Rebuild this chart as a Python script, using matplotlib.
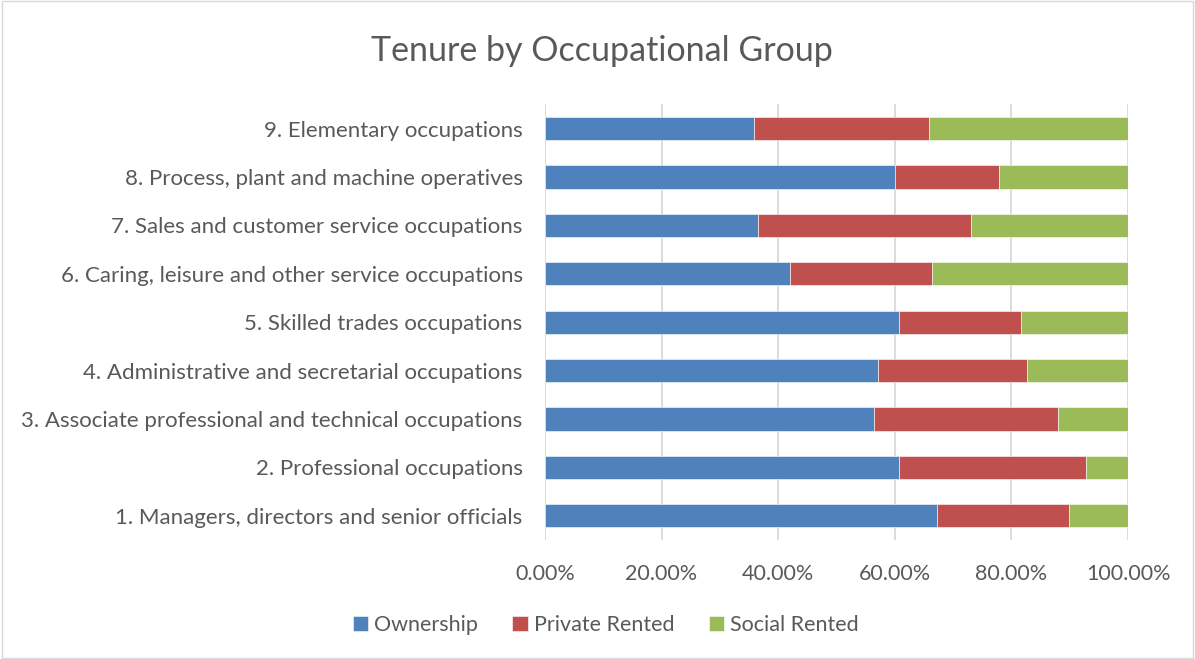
import matplotlib
matplotlib.use("Agg")
import matplotlib.pyplot as plt
import numpy as np
from matplotlib.patches import Rectangle

categories = [
    "1. Managers, directors and senior officials",
    "2. Professional occupations",
    "3. Associate professional and technical occupations",
    "4. Administrative and secretarial occupations",
    "5. Skilled trades occupations",
    "6. Caring, leisure and other service occupations",
    "7. Sales and customer service occupations",
    "8. Process, plant and machine operatives",
    "9. Elementary occupations",
]
ownership = [67.3, 60.7, 56.5, 57.1, 60.8, 42.0, 36.5, 60.0, 35.8]
private_rented = [22.5, 32.1, 31.4, 25.6, 20.8, 24.4, 36.6, 17.8, 30.0]
social_rented = [10.2, 7.2, 12.1, 17.3, 18.4, 33.6, 26.9, 22.2, 34.2]
series_names = ["Ownership", "Private Rented", "Social Rented"]
tick_labels = ["0.00%", "20.00%", "40.00%", "60.00%", "80.00%", "100.00%"]

colors = ["#4F81BD", "#C0504D", "#9BBB59"]
txt = "#595959"
plt.rcParams['font.family'] = ['Lato', 'DejaVu Sans']

fig = plt.figure(figsize=(11.95, 6.59), dpi=100)
fig.patches.append(Rectangle((0.002, 0.002), 0.996, 0.996, transform=fig.transFigure,
                             fill=False, edgecolor="#d9d9d9", linewidth=1))
ax = fig.add_axes([0.456, 0.1806, 0.488, 0.661])
y = np.arange(len(categories))
left = np.zeros(len(categories))
for vals, name, c in zip([ownership, private_rented, social_rented], series_names, colors):
    v = np.array(vals, dtype=float)
    ax.barh(y, v, left=left, height=0.48, color=c, label=name, zorder=3,
            edgecolor="white", linewidth=0.4)
    left += v

ax.set_xlim(0, 100)
ax.set_ylim(-0.5, len(categories) - 0.5)
ax.set_xticks(np.linspace(0, 100, 6))
ax.set_xticklabels(tick_labels)
ax.set_yticks(y)
ax.set_yticklabels(categories)
ax.tick_params(axis='both', length=0, colors=txt, labelsize=15.5)
ax.tick_params(axis='y', pad=16, labelsize=16)
ax.tick_params(axis='x', pad=17)
for s in ax.spines.values():
    s.set_visible(False)
ax.grid(axis='x', color="#d9d9d9", linewidth=1.3, zorder=0)
ax.set_axisbelow(True)

fig.text(0.504, 0.922, "Tenure by Occupational Group", ha="center", va="center",
         fontsize=24.5, color=txt)
handles, labels = ax.get_legend_handles_labels()
fig.legend(handles, labels, loc="center", bbox_to_anchor=(0.507, 0.052), ncol=3,
           frameon=False, fontsize=15.5, labelcolor=txt, handlelength=0.7,
           handleheight=0.7, handletextpad=0.3, columnspacing=1.6)
fig.savefig("out.png", dpi=100)
